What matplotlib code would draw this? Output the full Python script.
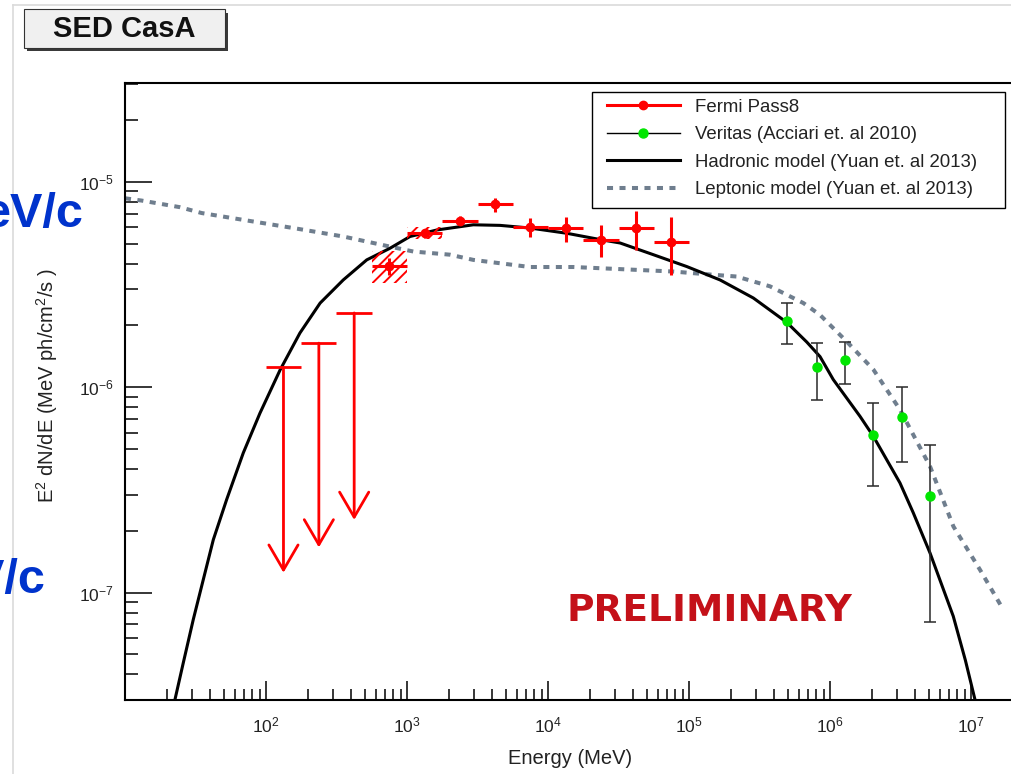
import matplotlib
matplotlib.use("Agg")
import matplotlib.pyplot as plt
from matplotlib.patches import Rectangle
from matplotlib.lines import Line2D

plt.rcParams['font.family'] = ['Liberation Sans', 'DejaVu Sans']
plt.rcParams['mathtext.fontset'] = 'custom'
plt.rcParams['mathtext.rm'] = 'Liberation Sans'
plt.rcParams['mathtext.default'] = 'regular'
plt.rcParams['axes.unicode_minus'] = False
plt.rcParams['hatch.linewidth'] = 1.4

# ---------------- data ----------------
# Fermi Pass8 flux points (MeV, MeV ph/cm2/s)
fermi_E   = [750, 1334, 2371, 4217, 7499, 13335, 23714, 42170, 74989]
fermi_Elo = [562, 1000, 1778, 3162, 5623, 10000, 17783, 31623, 56234]
fermi_Ehi = [1000, 1778, 3162, 5623, 10000, 17783, 31623, 56234, 100000]
fermi_F   = [3.90e-6, 5.63e-6, 6.48e-6, 7.79e-6, 6.06e-6, 5.95e-6, 5.22e-6, 5.95e-6, 5.12e-6]
fermi_Flo = [3.53e-6, 5.34e-6, 6.18e-6, 7.17e-6, 5.42e-6, 5.12e-6, 4.31e-6, 4.67e-6, 3.53e-6]
fermi_Fhi = [4.26e-6, 5.90e-6, 6.83e-6, 8.36e-6, 6.68e-6, 6.76e-6, 6.18e-6, 7.25e-6, 6.78e-6]
# systematic (hatched) boxes for the two lowest bins
sys_Elo = [562, 1000]
sys_Ehi = [1000, 1778]
sys_Flo = [3.23e-6, 5.26e-6]
sys_Fhi = [4.61e-6, 6.06e-6]

# Fermi upper limits
ul_E   = [133, 237, 422]
ul_Elo = [100, 178, 316]
ul_Ehi = [178, 316, 562]
ul_F   = [1.25e-6, 1.64e-6, 2.30e-6]
ul_end = [1.25e-7, 1.66e-7, 2.26e-7]

# Veritas (Acciari et al. 2010)
ver_E   = [4.98e5, 8.05e5, 1.285e6, 2.01e6, 3.26e6, 5.12e6]
ver_F   = [2.11e-6, 1.25e-6, 1.355e-6, 5.87e-7, 7.16e-7, 2.94e-7]
ver_Flo = [1.63e-6, 8.69e-7, 1.04e-6, 3.32e-7, 4.32e-7, 7.2e-8]
ver_Fhi = [2.57e-6, 1.64e-6, 1.67e-6, 8.38e-7, 1.00e-6, 5.21e-7]

# Hadronic model (Yuan et al. 2013)
had_E = [22.6, 25.9, 30.5, 35.9, 42.3, 52.6, 69.0, 90.6, 126, 174, 242, 353, 518, 757,
         1050, 1626, 2951, 4571, 7447, 13580, 24040, 32430, 55850, 96380, 1.66e5,
         2.858e5, 4.932e5, 6.839e5, 8.492e5, 1.054e6, 1.633e6, 2.028e6, 3.133e6,
         3.890e6, 5.117e6, 7.482e6, 9.12e6, 1.067e7]
had_F = [3.01e-8, 4.55e-8, 7.40e-8, 1.156e-7, 1.81e-7, 2.84e-7, 4.79e-7, 7.48e-7,
         1.216e-6, 1.837e-6, 2.57e-6, 3.33e-6, 4.17e-6, 4.75e-6, 5.42e-6, 5.83e-6,
         6.18e-6, 6.14e-6, 5.96e-6, 5.62e-6, 5.22e-6, 5.04e-6, 4.42e-6, 3.87e-6,
         3.33e-6, 2.72e-6, 2.07e-6, 1.66e-6, 1.41e-6, 1.09e-6, 7.21e-7, 5.77e-7,
         3.42e-7, 2.45e-7, 1.56e-7, 7.67e-8, 4.68e-8, 3.01e-8]

# Leptonic model (Yuan et al. 2013)
lep_E = [10, 13.1, 24.5, 35.0, 61.9, 156, 353, 757, 1109, 2018, 2951, 7447, 15140,
         32430, 77270, 1.262e5, 2.178e5, 3.750e5, 6.471e5, 8.492e5, 1.312e6, 2.028e6,
         3.133e6, 5.117e6, 7.499e6, 1.159e7, 1.694e7]
lep_F = [8.32e-6, 8.11e-6, 7.53e-6, 7.05e-6, 6.61e-6, 5.96e-6, 5.42e-6, 4.84e-6, 4.58e-6,
         4.42e-6, 4.17e-6, 3.85e-6, 3.85e-6, 3.76e-6, 3.66e-6, 3.56e-6, 3.46e-6, 3.10e-6,
         2.57e-6, 2.25e-6, 1.67e-6, 1.22e-6, 7.78e-7, 4.12e-7, 2.10e-7, 1.29e-7, 8.26e-8]

x_ticks = [1e2, 1e3, 1e4, 1e5, 1e6, 1e7]
legend_labels = ["Fermi Pass8", "Veritas (Acciari et. al 2010)",
                 "Hadronic model (Yuan et. al 2013)", "Leptonic model (Yuan et. al 2013)"]

# ---------------- figure ----------------
W, H = 1011, 774
fig = plt.figure(figsize=(W / 100, H / 100), dpi=100)


def fx(x):
    return x / W


def fy(y):
    return 1 - y / H


ax = fig.add_axes([fx(125), fy(700), 890 / W, 617 / H])
ax.set_xscale('log')
ax.set_yscale('log')
ax.set_xlim(10, 2.05e7)
ax.set_ylim(3.0e-8, 3.03e-5)

RED = '#ff0000'
LEPC = '#6f7e8e'

# models
ax.plot(lep_E, lep_F, color=LEPC, lw=2.9, dashes=(1.5, 1.6), zorder=2)
ax.plot(had_E, had_F, color='black', lw=2.2, zorder=3)

# systematic hatched boxes
for lo, hi, flo, fhi in zip(sys_Elo, sys_Ehi, sys_Flo, sys_Fhi):
    ax.add_patch(Rectangle((lo, flo), hi - lo, fhi - flo, fill=False, hatch='///',
                           edgecolor=RED, lw=0, zorder=4))

# Fermi points
xerr = [[e - l for e, l in zip(fermi_E, fermi_Elo)], [h - e for e, h in zip(fermi_E, fermi_Ehi)]]
yerr = [[f - l for f, l in zip(fermi_F, fermi_Flo)], [h - f for f, h in zip(fermi_F, fermi_Fhi)]]
ax.errorbar(fermi_E, fermi_F, xerr=xerr, yerr=yerr, fmt='o', color=RED, ms=6,
            elinewidth=2.2, capsize=0, zorder=5)

# upper limits
ax.hlines(ul_F, ul_Elo, ul_Ehi, color=RED, lw=2.0, zorder=5)
for e, f, t in zip(ul_E, ul_F, ul_end):
    ax.annotate('', xy=(e, t), xytext=(e, f),
                arrowprops=dict(arrowstyle='->,head_length=1.8,head_width=1.05',
                                color=RED, lw=2.0, mutation_scale=10,
                                shrinkA=0, shrinkB=0), zorder=5)

# Veritas points
vyerr = [[f - l for f, l in zip(ver_F, ver_Flo)], [h - f for f, h in zip(ver_F, ver_Fhi)]]
ax.errorbar(ver_E, ver_F, yerr=vyerr, fmt='o', mfc='#00e600', mec='#00e600', ms=6.5,
            ecolor='#2a2a2a', elinewidth=1.1, capsize=4, capthick=1.1, zorder=6)

# axes style (ROOT-like)
for s in ax.spines.values():
    s.set_linewidth(1.5)
ax.set_xticks(x_ticks)
ax.tick_params(axis='both', which='both', direction='in', top=False, right=False,
               labelsize=12.5, colors='black', width=1.1)
ax.tick_params(axis='x', which='major', length=13.5, pad=11)
ax.tick_params(axis='x', which='minor', length=7.7)
ax.tick_params(axis='y', which='major', length=19.2, pad=8)
ax.tick_params(axis='y', which='minor', length=9.6)
for lab in ax.get_xticklabels() + ax.get_yticklabels():
    lab.set_color('#222222')

ax.set_xlabel('Energy (MeV)', fontsize=14.5, color='#222222', va='center')
ax.xaxis.set_label_coords(0.5, (700 - 758) / 617)
ax.set_ylabel(r'E$^{2}$ dN/dE (MeV ph/cm$^{2}$/s )', fontsize=14.5, color='#222222', va='center')
ax.yaxis.set_label_coords((47 - 125) / 890, (700 - 386) / 617)

# legend
fig.add_artist(Rectangle((fx(591.7), fy(207.7)), (1005 - 591.7) / W, 116 / H,
                         transform=fig.transFigure, fill=True, facecolor='white',
                         edgecolor='black', lw=1.0, zorder=10))
handles = [
    Line2D([], [], color=RED, lw=2.2, marker='o', ms=6),
    Line2D([], [], color='black', lw=1.0, marker='o', mfc='#00e600', mec='#00e600', ms=6.5),
    Line2D([], [], color='black', lw=2.2),
    Line2D([], [], color=LEPC, lw=2.9, dashes=(1.5, 1.6)),
]
leg = fig.legend(handles, legend_labels, loc='upper left',
                 bbox_to_anchor=(fx(606.7), fy(98.5)), frameon=False, fontsize=13.4,
                 borderpad=0, borderaxespad=0, handlelength=3.95, handletextpad=0.8,
                 labelspacing=0.57)
leg.set_zorder(11)
for t in leg.get_texts():
    t.set_color('#222222')

# PRELIMINARY
fig.text(fx(566), fy(620.7), 'PRELIMINARY', family='DejaVu Sans', weight='bold',
         fontsize=27, color='#c41119', ha='left', va='baseline')

# title box
fig.add_artist(Rectangle((fx(27), fy(51)), 201 / W, 38 / H, transform=fig.transFigure,
                         facecolor='#3a3a3a', edgecolor='none', zorder=10))
fig.add_artist(Rectangle((fx(24), fy(47.5)), 201 / W, 38 / H, transform=fig.transFigure,
                         facecolor='#f0f0f0', edgecolor='#333333', lw=0.8, zorder=11))
fig.text(fx(124.5), fy(29), 'SED CasA', weight='bold', fontsize=21, color='#111111',
         ha='center', va='center', zorder=12)

# slide remnants: frame lines and partly cut blue text
fig.add_artist(Line2D([fx(12.5), fx(12.5)], [fy(5), 0], transform=fig.transFigure,
                      color='#dadada', lw=1.2))
fig.add_artist(Line2D([fx(12.5), 1], [fy(5), fy(5)], transform=fig.transFigure,
                      color='#dadada', lw=1.2))
fig.text(fx(83), fy(227), 'eV/c', weight='bold', fontsize=35, color='#0033cc',
         ha='right', va='baseline')
fig.text(fx(45), fy(593), 'eV/c', weight='bold', fontsize=35, color='#0033cc',
         ha='right', va='baseline')

fig.savefig('out.png', dpi=100)
